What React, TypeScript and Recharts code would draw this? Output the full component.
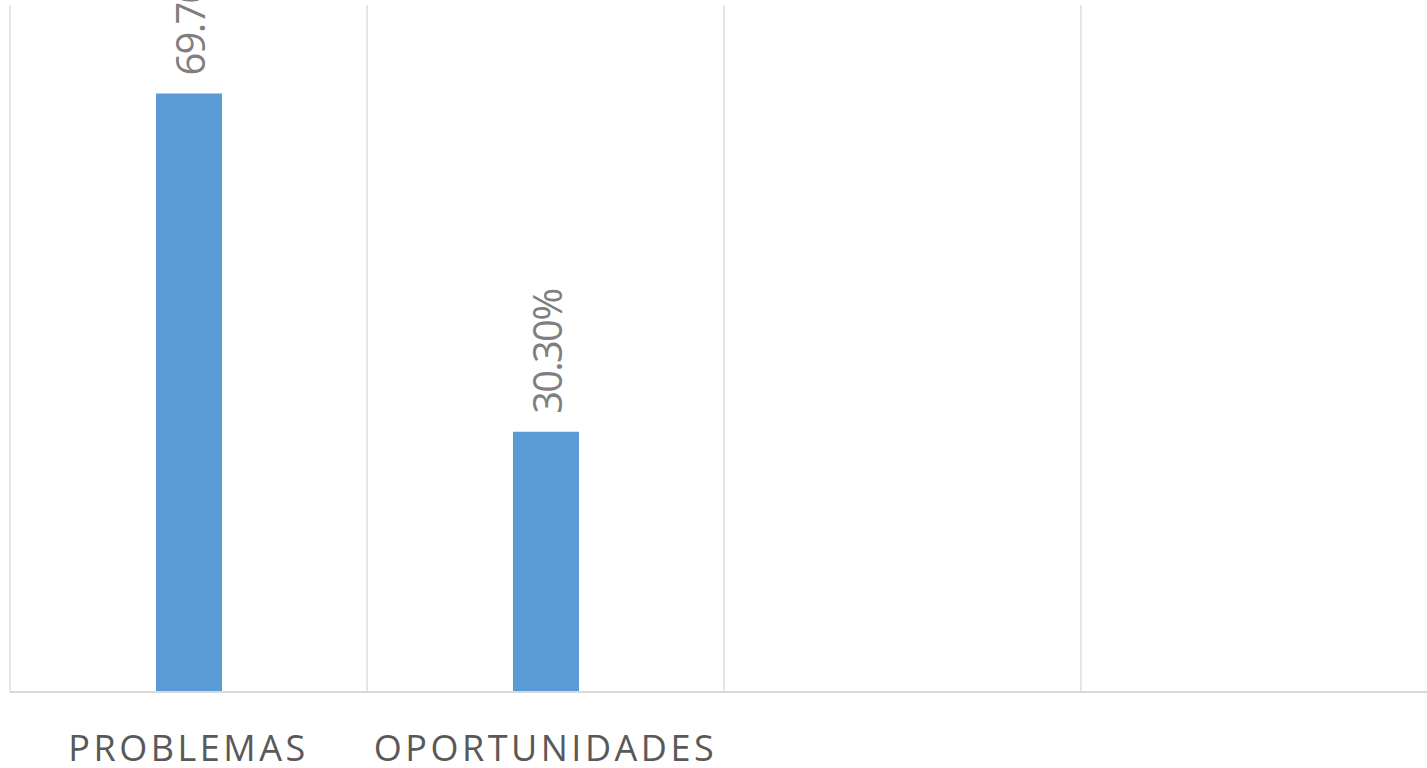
import { Bar, BarChart, CartesianGrid, LabelList, XAxis, YAxis } from "recharts";

const categories = ["PROBLEMAS", "OPORTUNIDADES", "", ""];
const shares: (number | null)[] = [69.7, 30.3, null, null];
const yDomain: [number, number] = [0, 80];

const rows = categories.map((name, i) => ({ name, share: shares[i] }));

function pct(v: number): string {
  return `${v.toFixed(2)}%`;
}

function CategoryTick(props: any) {
  const { x, y, payload } = props;
  return (
    <text
      x={x}
      y={y + 69}
      textAnchor="middle"
      fill="#595959"
      fontFamily="'Open Sans', sans-serif"
      fontSize={36}
      letterSpacing={3.5}
    >
      {payload.value}
    </text>
  );
}

function ValueLabel(props: any) {
  const { x, y, width, value } = props;
  if (value == null) return null;
  const cx = x + width / 2 + 16;
  const cy = y - 18;
  return (
    <text
      x={cx}
      y={cy}
      transform={`rotate(-90 ${cx} ${cy})`}
      textAnchor="start"
      fill="#7f7f7f"
      fontFamily="'Open Sans', sans-serif"
      fontSize={40}
      letterSpacing={-1.8}
    >
      {pct(Number(value))}
    </text>
  );
}

export default function App() {
  return (
    <div style={{ position: "absolute", left: 0, top: 0, width: 1427, height: 768, overflow: "hidden", background: "#fff" }}>
      <BarChart
        data={rows}
        width={1440}
        height={768}
        margin={{ top: 5, right: 2, bottom: 0, left: 10 }}
      >
        <CartesianGrid
          horizontal={false}
          stroke="#d9d9d9"
          strokeWidth={1.3}
          verticalCoordinatesGenerator={({ offset }: any) =>
            categories.map((_, i) => offset.left + (i * offset.width) / categories.length).concat(offset.left + offset.width)
          }
        />
        <XAxis
          dataKey="name"
          height={76}
          tickSize={0}
          tickMargin={0}
          tickLine={false}
          axisLine={{ stroke: "#d9d9d9", strokeWidth: 2 }}
          tick={<CategoryTick />}
          interval={0}
        />
        <YAxis hide domain={yDomain} />
        <Bar dataKey="share" fill="#5b9bd5" barSize={66} isAnimationActive={false}>
          <LabelList dataKey="share" content={<ValueLabel />} />
        </Bar>
      </BarChart>
    </div>
  );
}
